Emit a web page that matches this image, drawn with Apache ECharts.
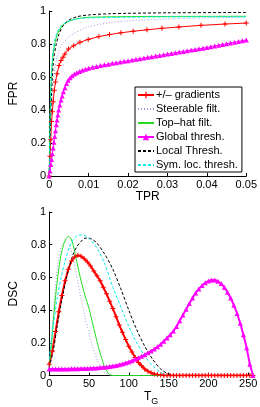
<!DOCTYPE html>
<html>
<head>
<meta charset="utf-8">
<script src="https://cdn.jsdelivr.net/npm/echarts@6/dist/echarts.min.js"></script>
<style>
  html, body { margin: 0; padding: 0; background: #fff; }
  #chart { width: 260px; height: 407px; }
</style>
</head>
<body>
<div id="chart"></div>
<script>
// series names (legend order)
const names = ['+/– gradients', 'Steerable filt.', 'Top–hat filt.', 'Global thresh.', 'Local Thresh.', 'Sym. loc. thresh.']

// top panel: FPR vs TPR
const gradX = [0, 0.0002, 0.0004, 0.0006, 0.0008, 0.001, 0.0013, 0.0016, 0.002, 0.0025, 0.003, 0.0035, 0.004, 0.0049, 0.0062, 0.0078, 0.0099, 0.0126, 0.0153, 0.0182, 0.0213, 0.0248, 0.0286, 0.0329, 0.0385, 0.0446, 0.05]
const gradY = [0, 0.12, 0.22, 0.33, 0.39, 0.45, 0.52, 0.57, 0.62, 0.67, 0.70, 0.72, 0.74, 0.77, 0.79, 0.81, 0.828, 0.845, 0.857, 0.868, 0.877, 0.886, 0.895, 0.903, 0.913, 0.921, 0.927]

const steerX = [0, 0.0003, 0.0006, 0.001, 0.0015, 0.002, 0.003, 0.004, 0.006, 0.008, 0.01, 0.015, 0.02, 0.03, 0.04, 0.05]
const steerY = [0, 0.25, 0.42, 0.56, 0.66, 0.72, 0.79, 0.82, 0.86, 0.885, 0.905, 0.928, 0.94, 0.952, 0.958, 0.962]

const hatX = [0, 0.0002, 0.0004, 0.0006, 0.001, 0.0015, 0.002, 0.003, 0.004, 0.006, 0.008, 0.01, 0.02, 0.03, 0.05]
const hatY = [0, 0.3, 0.5, 0.62, 0.74, 0.81, 0.855, 0.9, 0.925, 0.947, 0.957, 0.962, 0.966, 0.967, 0.968]

const globX = [0, 0.0002, 0.0004, 0.0006, 0.0008, 0.001, 0.0012, 0.0014, 0.0016, 0.0018, 0.002, 0.0022, 0.0024, 0.0027, 0.003, 0.0033, 0.0036, 0.004, 0.0044, 0.0048, 0.0053, 0.0058, 0.0064, 0.007, 0.0077, 0.0084, 0.0092, 0.01,
  0.011, 0.012, 0.013, 0.014, 0.015, 0.016, 0.017, 0.018, 0.019, 0.02, 0.021, 0.022, 0.023, 0.024, 0.025, 0.026, 0.027, 0.028, 0.029, 0.03,
  0.031, 0.032, 0.033, 0.034, 0.035, 0.036, 0.037, 0.038, 0.039, 0.04, 0.041, 0.042, 0.043, 0.044, 0.045, 0.046, 0.047, 0.048, 0.049, 0.05]
const globY = [0, 0.03, 0.07, 0.10, 0.135, 0.17, 0.205, 0.24, 0.275, 0.31, 0.34, 0.37, 0.40, 0.43, 0.46, 0.485, 0.51, 0.535, 0.56, 0.58, 0.595, 0.607, 0.618, 0.626, 0.634, 0.641, 0.647, 0.653,
  0.659, 0.664, 0.669, 0.674, 0.678, 0.683, 0.687, 0.691, 0.695, 0.699, 0.703, 0.707, 0.711, 0.715, 0.719, 0.723, 0.727, 0.731, 0.735, 0.739,
  0.743, 0.747, 0.751, 0.755, 0.759, 0.763, 0.767, 0.771, 0.775, 0.779, 0.784, 0.788, 0.793, 0.797, 0.802, 0.806, 0.811, 0.815, 0.82, 0.825]

const locX = [0, 0.0002, 0.0004, 0.0008, 0.0012, 0.0018, 0.0025, 0.0035, 0.005, 0.007, 0.01, 0.015, 0.02, 0.03, 0.05]
const locY = [0, 0.2, 0.38, 0.6, 0.72, 0.8, 0.86, 0.91, 0.945, 0.965, 0.976, 0.983, 0.986, 0.989, 0.991]

const symX = [0, 0.0002, 0.0004, 0.0006, 0.001, 0.0015, 0.002, 0.003, 0.005, 0.008, 0.01, 0.02, 0.03, 0.05]
const symY = [0, 0.33, 0.52, 0.64, 0.76, 0.83, 0.87, 0.91, 0.94, 0.955, 0.958, 0.962, 0.964, 0.965]

// bottom panel: DSC vs T_G
const tgX = [0, 4, 8, 12, 16, 20, 24, 28, 32, 36, 40, 44, 48, 52, 56, 60, 64, 68, 72, 76, 80, 84, 88, 92, 96, 100, 104, 108, 112, 116, 120, 124, 128,
  132, 136, 140, 144, 148, 152, 156, 160, 164, 168, 172, 176, 180, 184, 188, 192, 196, 200, 204, 208, 212, 216, 220, 224, 228, 232, 236, 240, 244, 248, 252, 256]
const gradDsc = [0.07, 0.15, 0.27, 0.39, 0.49, 0.58, 0.65, 0.70, 0.725, 0.735, 0.73, 0.715, 0.695, 0.67, 0.64, 0.61, 0.58, 0.54, 0.50, 0.455, 0.41, 0.36, 0.31, 0.265, 0.22, 0.18, 0.145, 0.11, 0.08, 0.06, 0.04, 0.027, 0.017,
  0.01, 0.006, 0.003, 0.001, 0, 0, 0, 0, 0, 0, 0, 0, 0, 0, 0, 0, 0, 0, 0, 0, 0, 0, 0, 0, 0, 0, 0, 0, 0, 0, 0, 0]
const globDsc = [0.04, 0.04, 0.04, 0.04, 0.041, 0.041, 0.041, 0.042, 0.042, 0.042, 0.043, 0.043, 0.044, 0.045, 0.046, 0.047, 0.049, 0.051, 0.053, 0.056, 0.059, 0.062, 0.066, 0.071, 0.077, 0.083, 0.091, 0.1, 0.109, 0.118, 0.128, 0.139, 0.15,
  0.162, 0.176, 0.192, 0.21, 0.23, 0.25, 0.272, 0.30, 0.335, 0.37, 0.405, 0.44, 0.475, 0.505, 0.53, 0.55, 0.567, 0.578, 0.585, 0.584, 0.577, 0.563, 0.54, 0.51, 0.475, 0.43, 0.38, 0.32, 0.25, 0.17, 0.07, 0]

const steerTx = [0, 4, 8, 12, 16, 20, 25, 30, 35, 40, 45, 50, 55, 60, 65, 70, 75, 80, 256]
const steerDsc = [0.08, 0.3, 0.55, 0.72, 0.8, 0.82, 0.8, 0.72, 0.6, 0.47, 0.36, 0.26, 0.17, 0.1, 0.05, 0.02, 0.005, 0, 0]

const hatTx = [0, 3, 6, 9, 12, 15, 18, 21, 24, 27, 30, 35, 40, 45, 50, 55, 60, 65, 70, 75, 80, 256]
const hatDsc = [0.05, 0.2, 0.38, 0.53, 0.65, 0.74, 0.8, 0.835, 0.85, 0.84, 0.8, 0.69, 0.58, 0.49, 0.41, 0.31, 0.21, 0.12, 0.05, 0.01, 0, 0]

const locTx = [0, 5, 10, 15, 20, 25, 30, 35, 40, 45, 50, 55, 60, 70, 80, 90, 100, 110, 120, 130, 140, 150, 160, 256]
const locDsc = [0.05, 0.15, 0.3, 0.44, 0.56, 0.66, 0.74, 0.79, 0.82, 0.84, 0.84, 0.83, 0.81, 0.74, 0.65, 0.53, 0.40, 0.28, 0.18, 0.10, 0.04, 0.01, 0, 0]

const symTx = [0, 5, 10, 15, 20, 25, 30, 35, 40, 45, 50, 60, 70, 80, 90, 100, 110, 120, 130, 140, 150, 256]
const symDsc = [0.1, 0.3, 0.47, 0.6, 0.7, 0.78, 0.83, 0.855, 0.86, 0.855, 0.84, 0.78, 0.68, 0.54, 0.42, 0.30, 0.2, 0.12, 0.06, 0.02, 0, 0]

const pairs = (xs, ys) => xs.map((x, i) => [x, ys[i]])

const font = 'Liberation Sans, Arial, sans-serif'
const plus = 'path://M0,4H10V6H0Z M4,0H6V10H4Z'

const axisCommon = {
  splitLine: { show: false },
  axisLine: { show: true, onZero: false, lineStyle: { color: '#000', width: 1 } },
  axisTick: { show: true, inside: true, length: 3, lineStyle: { color: '#000' } },
  axisLabel: { color: '#000', fontSize: 11, fontFamily: font, margin: 3 },
  nameLocation: 'middle',
  nameTextStyle: { color: '#000', fontSize: 12, fontFamily: font }
}

const lineSeries = (name, data, xi, style) => Object.assign({
  name: name,
  type: 'line',
  xAxisIndex: xi,
  yAxisIndex: xi,
  data: data,
  symbol: 'none',
  animation: false
}, style)

const styles = [
  { color: '#ff0000', lineStyle: { color: '#ff0000', width: 1 }, symbol: plus, symbolSize: 5, showSymbol: true },
  { color: '#9a9ae0', lineStyle: { color: '#9a9ae0', width: 1, type: [1, 2] }, smooth: 0.3 },
  { color: '#22dd22', lineStyle: { color: '#22dd22', width: 1 }, smooth: 0.3 },
  { color: '#ff00ff', lineStyle: { color: '#ff00ff', width: 1 }, symbol: 'triangle', symbolSize: 5, showSymbol: true },
  { color: '#000000', lineStyle: { color: '#000000', width: 1, type: [3, 2] }, smooth: 0.3 },
  { color: '#00eeee', lineStyle: { color: '#00eeee', width: 1, type: [3, 2] }, smooth: 0.3 }
]

const topData = [pairs(gradX, gradY), pairs(steerX, steerY), pairs(hatX, hatY), pairs(globX, globY), pairs(locX, locY), pairs(symX, symY)]
const botData = [pairs(tgX, gradDsc), pairs(steerTx, steerDsc), pairs(hatTx, hatDsc), pairs(tgX, globDsc), pairs(locTx, locDsc), pairs(symTx, symDsc)]

const series = []
names.forEach((n, i) => series.push(lineSeries(n, topData[i], 0, styles[i])))
names.forEach((n, i) => {
  const s = JSON.parse(JSON.stringify(styles[i]))
  if (i === 0 || i === 3) s.lineStyle.width = 2
  series.push(lineSeries(n, botData[i], 1, s))
})

// legend entries: hide the symbol for series drawn as plain lines
const legendItems = names.map((n, i) => (i === 0 || i === 3) ? { name: n } : { name: n, itemStyle: { opacity: 0 } })

const chart = echarts.init(document.getElementById('chart'), null, { renderer: 'canvas' })

chart.setOption({
  animation: false,
  backgroundColor: '#fff',
  grid: [
    { left: 33, right: 11, top: 11, height: 165 },
    { left: 33, right: 5, top: 212, height: 169 }
  ],
  legend: {
    data: legendItems,
    orient: 'vertical',
    left: 135,
    top: 87,
    itemWidth: 16,
    itemHeight: 8,
    itemGap: 2,
    padding: [2, 4, 1, 2],
    borderColor: '#000',
    borderWidth: 1,
    backgroundColor: '#fff',
    selectedMode: false,
    textStyle: { color: '#000', fontSize: 11, fontFamily: font, lineHeight: 12, padding: [0, 0, 0, -3] }
  },
  xAxis: [
    Object.assign({}, axisCommon, { gridIndex: 0, type: 'value', min: 0, max: 0.05, interval: 0.01, name: 'TPR', nameGap: 13 }),
    Object.assign({}, axisCommon, {
      gridIndex: 1, type: 'value', min: 0, max: 256, interval: 50, nameGap: 9,
      axisLabel: Object.assign({}, axisCommon.axisLabel, { showMaxLabel: false }),
      name: '{t|T}{g|G}',
      nameTextStyle: {
        color: '#000', fontFamily: font,
        rich: { t: { fontSize: 12, fontFamily: font, color: '#000' }, g: { fontSize: 9, fontFamily: font, color: '#000', padding: [10, 0, 0, 0] } }
      }
    })
  ],
  yAxis: [
    Object.assign({}, axisCommon, { gridIndex: 0, type: 'value', min: 0, max: 1, interval: 0.2, name: 'FPR', nameGap: 19 }),
    Object.assign({}, axisCommon, { gridIndex: 1, type: 'value', min: 0, max: 1, interval: 0.2, name: 'DSC', nameGap: 19 })
  ],
  series: series
})
</script>
</body>
</html>
